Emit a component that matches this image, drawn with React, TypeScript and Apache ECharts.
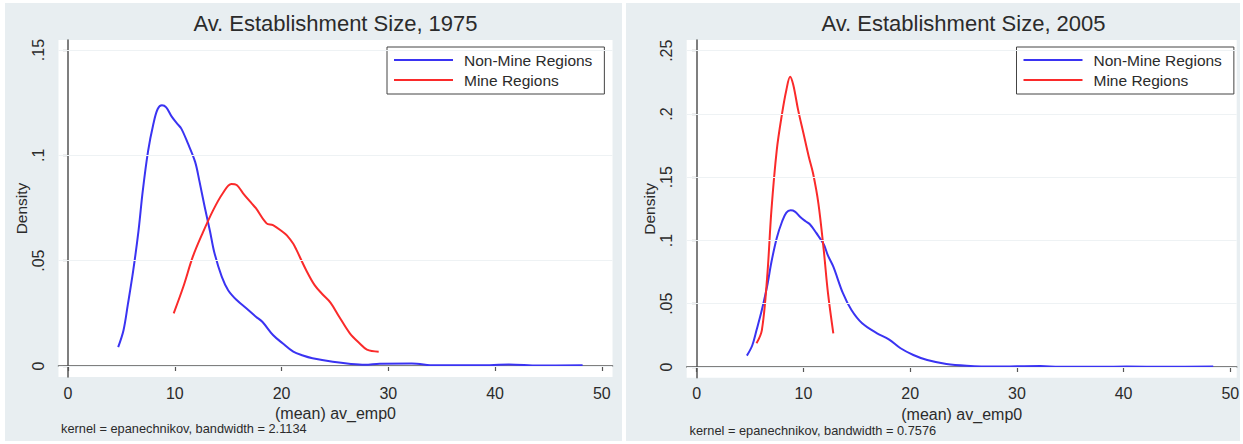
import React, { useEffect, useRef } from "react";
import * as echarts from "echarts";

// Kernel density estimates (x = (mean) av_emp0, y = density)
const nonMine1975: [number, number][] = [
  [4.7, 0.009], [5.2, 0.017], [5.6, 0.029], [6.1, 0.045], [6.6, 0.064], [7.0, 0.083],
  [7.5, 0.102], [8.0, 0.115], [8.4, 0.122], [8.8, 0.1238], [9.2, 0.1228], [9.7, 0.1185],
  [10.2, 0.1152], [10.6, 0.1128], [11.2, 0.106], [11.9, 0.097], [12.3, 0.088], [12.8, 0.0756],
  [13.3, 0.064], [13.7, 0.054], [14.4, 0.0424], [15.0, 0.036], [15.8, 0.0313], [16.7, 0.0274],
  [17.6, 0.0234], [18.2, 0.021], [19.2, 0.0147], [20.1, 0.0108], [21.1, 0.0068], [22.0, 0.005],
  [22.9, 0.0037], [24.8, 0.002], [26.5, 0.001], [27.8, 0.0006], [29.2, 0.0011], [32.2, 0.0012],
  [34.4, 0.0003], [38.5, 0.0003], [41.3, 0.0007], [44.1, 0.0002], [48.2, 0.0003],
];
const mine1975: [number, number][] = [
  [9.9, 0.025], [10.8, 0.0376], [11.7, 0.052], [12.6, 0.063], [13.6, 0.074], [14.5, 0.082],
  [15.3, 0.0864], [15.8, 0.0859], [16.4, 0.082], [17.2, 0.0772], [17.6, 0.0749], [18.6, 0.0677],
  [19.2, 0.0669], [20.1, 0.0637], [20.5, 0.062], [21.1, 0.058], [21.4, 0.0551], [22.3, 0.0456],
  [23.1, 0.0384], [23.9, 0.0337], [24.6, 0.03], [25.4, 0.0234], [26.4, 0.0155], [27.3, 0.0108],
  [28.0, 0.0078], [29.1, 0.0068],
];
const nonMine2005: [number, number][] = [
  [4.7, 0.009], [5.2, 0.017], [5.6, 0.029], [6.1, 0.045], [6.6, 0.064], [7.0, 0.083],
  [7.5, 0.102], [8.0, 0.115], [8.4, 0.122], [8.8, 0.1238], [9.2, 0.1228], [9.7, 0.1185],
  [10.2, 0.1152], [10.6, 0.1128], [11.2, 0.106], [11.9, 0.097], [12.3, 0.088], [12.8, 0.0793],
  [13.7, 0.0583], [14.5, 0.045], [15.5, 0.0345], [16.9, 0.0266], [18.0, 0.0219], [19.1, 0.0148],
  [20.3, 0.0095], [21.6, 0.0055], [23.4, 0.0024], [25.3, 0.001], [27.8, 0.0003], [32.2, 0.0008],
  [34.0, 0.0001], [37.8, 0.0001], [40.3, 0.0003], [44.0, 0.0001], [48.4, 0.0003],
];
const mine2005: [number, number][] = [
  [5.6, 0.0187], [6.1, 0.029], [6.6, 0.071], [7.0, 0.124], [7.5, 0.1715], [8.0, 0.2005],
  [8.4, 0.219], [8.75, 0.2295], [9.05, 0.2229], [9.5, 0.2032], [10.0, 0.1847], [10.5, 0.1662],
  [10.9, 0.1531], [11.4, 0.1294], [11.9, 0.0925], [12.3, 0.0583], [12.8, 0.0266],
];

const xTicks = [0, 10, 20, 30, 40, 50];
const yTicks1975 = [0, 0.05, 0.1, 0.15];
const yTicks2005 = [0, 0.05, 0.1, 0.15, 0.2, 0.25];
const titles = ["Av. Establishment Size, 1975", "Av. Establishment Size, 2005"];
const notes = [
  "kernel = epanechnikov, bandwidth = 2.1134",
  "kernel = epanechnikov, bandwidth = 0.7576",
];
const seriesNames = ["Non-Mine Regions", "Mine Regions"];

const FONT = "'Liberation Sans', Arial, Helvetica, sans-serif";
const BLUE = "#3a33f2";
const RED = "#fa2a2a";
const TEXT = "#2b2b2b";
const AXIS = "#555";
const PANEL = "#e8eef1";
const GRIDLINE = "#eef2f4";

const fmtY = (v: number) => (v === 0 ? "0" : String(v).replace(/^0/, ""));

export default function App() {
  const ref = useRef<HTMLDivElement>(null);
  useEffect(() => {
    if (!ref.current) return;
    const chart = echarts.init(ref.current, undefined, { renderer: "svg" });

    const grids = [
      { left: 58.5, top: 40, width: 554, height: 337 },
      { left: 686.7, top: 40, width: 550, height: 337.7 },
    ];
    const xRanges = [
      { min: -0.89, max: 51.0 },
      { min: -0.94, max: 50.6 },
    ];
    const yRanges = [
      { min: -0.00522, max: 0.15475 },
      { min: -0.00846, max: 0.25846 },
    ];
    const yTickSets = [yTicks1975, yTicks2005];

    const xAxis = grids.map((_, i) => ({
      type: "value",
      gridIndex: i,
      min: xRanges[i].min,
      max: xRanges[i].max,
      name: "(mean) av_emp0",
      nameLocation: "middle",
      nameGap: 24,
      nameTextStyle: { fontFamily: FONT, fontSize: 16, color: TEXT },
      axisLine: { show: true, lineStyle: { color: AXIS, width: 1.5 } },
      axisTick: { show: true, length: 5, customValues: xTicks, lineStyle: { color: AXIS, width: 1.2 } },
      axisLabel: {
        customValues: xTicks,
        fontFamily: FONT,
        fontSize: 16,
        color: TEXT,
        margin: 8,
        formatter: (v: number) => String(v),
      },
      splitLine: { show: false },
    }));

    const yAxis = grids.map((_, i) => ({
      type: "value",
      gridIndex: i,
      min: yRanges[i].min,
      max: yRanges[i].max,
      name: "Density",
      nameLocation: "middle",
      nameGap: 28,
      nameTextStyle: { fontFamily: FONT, fontSize: 15.5, color: TEXT },
      axisLine: { show: true, lineStyle: { color: AXIS, width: 1.5 } },
      axisTick: { show: true, length: 5, customValues: yTickSets[i], lineStyle: { color: AXIS, width: 1.2 } },
      axisLabel: {
        customValues: yTickSets[i],
        rotate: 90,
        fontFamily: FONT,
        fontSize: 16,
        color: TEXT,
        margin: 12,
        formatter: fmtY,
      },
      splitLine: { show: false },
    }));

    const gridMark = (ticks: number[]) => ({
      silent: true,
      symbol: "none",
      label: { show: false },
      lineStyle: { color: GRIDLINE, width: 1, type: "solid" },
      data: ticks.map((t) => ({ yAxis: t })),
    });

    const mkLine = (name: string, data: [number, number][], color: string, idx: number, withGrid: boolean) => ({
      type: "line",
      name,
      xAxisIndex: idx,
      yAxisIndex: idx,
      data,
      smooth: 0.35,
      showSymbol: false,
      symbol: "none",
      lineStyle: { color, width: 2 },
      itemStyle: { color },
      z: 3,
      ...(withGrid ? { markLine: gridMark(yTickSets[idx]) } : {}),
    });

    const legendBase = {
      orient: "vertical",
      top: 47,
      padding: [5, 12, 6, 7],
      itemGap: 4,
      itemWidth: 59,
      itemHeight: 2,
      icon: "rect",
      borderColor: "#444",
      borderWidth: 1,
      backgroundColor: "#fff",
      textStyle: { fontFamily: FONT, fontSize: 15.5, color: TEXT, padding: [0, 0, 0, 6] },
      data: seriesNames,
    };

    chart.setOption({
      animation: false,
      backgroundColor: "#fff",
      title: titles.map((t, i) => ({
        text: t,
        left: i === 0 ? 335.5 : 963.5,
        top: 11.5,
        textAlign: "center",
        padding: 0,
        textStyle: { fontFamily: FONT, fontSize: 22, fontWeight: "normal", color: TEXT, lineHeight: 24 },
      })),
      legend: [
        { ...legendBase, left: 387 },
        { ...legendBase, left: 1016.5 },
      ],
      grid: grids.map((g) => ({ ...g, show: true, backgroundColor: "#fff", borderWidth: 0 })),
      xAxis,
      yAxis,
      graphic: [
        { type: "rect", z: -10, silent: true, shape: { x: 5, y: 3, width: 617, height: 438 }, style: { fill: PANEL } },
        { type: "rect", z: -10, silent: true, shape: { x: 626, y: 3, width: 614, height: 438 }, style: { fill: PANEL } },
        {
          type: "text", left: 61, top: 422,
          style: { text: notes[0], fontFamily: FONT, fontSize: 12.8, fill: TEXT },
        },
        {
          type: "text", left: 689.5, top: 424,
          style: { text: notes[1], fontFamily: FONT, fontSize: 12.8, fill: TEXT },
        },
      ],
      series: [
        mkLine(seriesNames[0], nonMine1975, BLUE, 0, true),
        mkLine(seriesNames[1], mine1975, RED, 0, false),
        mkLine(seriesNames[0], nonMine2005, BLUE, 1, true),
        mkLine(seriesNames[1], mine2005, RED, 1, false),
      ],
    });

    return () => chart.dispose();
  }, []);

  return (
    <div style={{ position: "absolute", left: 0, top: 0, width: 1243, height: 444, background: "#fff" }}>
      <div ref={ref} style={{ width: 1243, height: 444 }} />
    </div>
  );
}
